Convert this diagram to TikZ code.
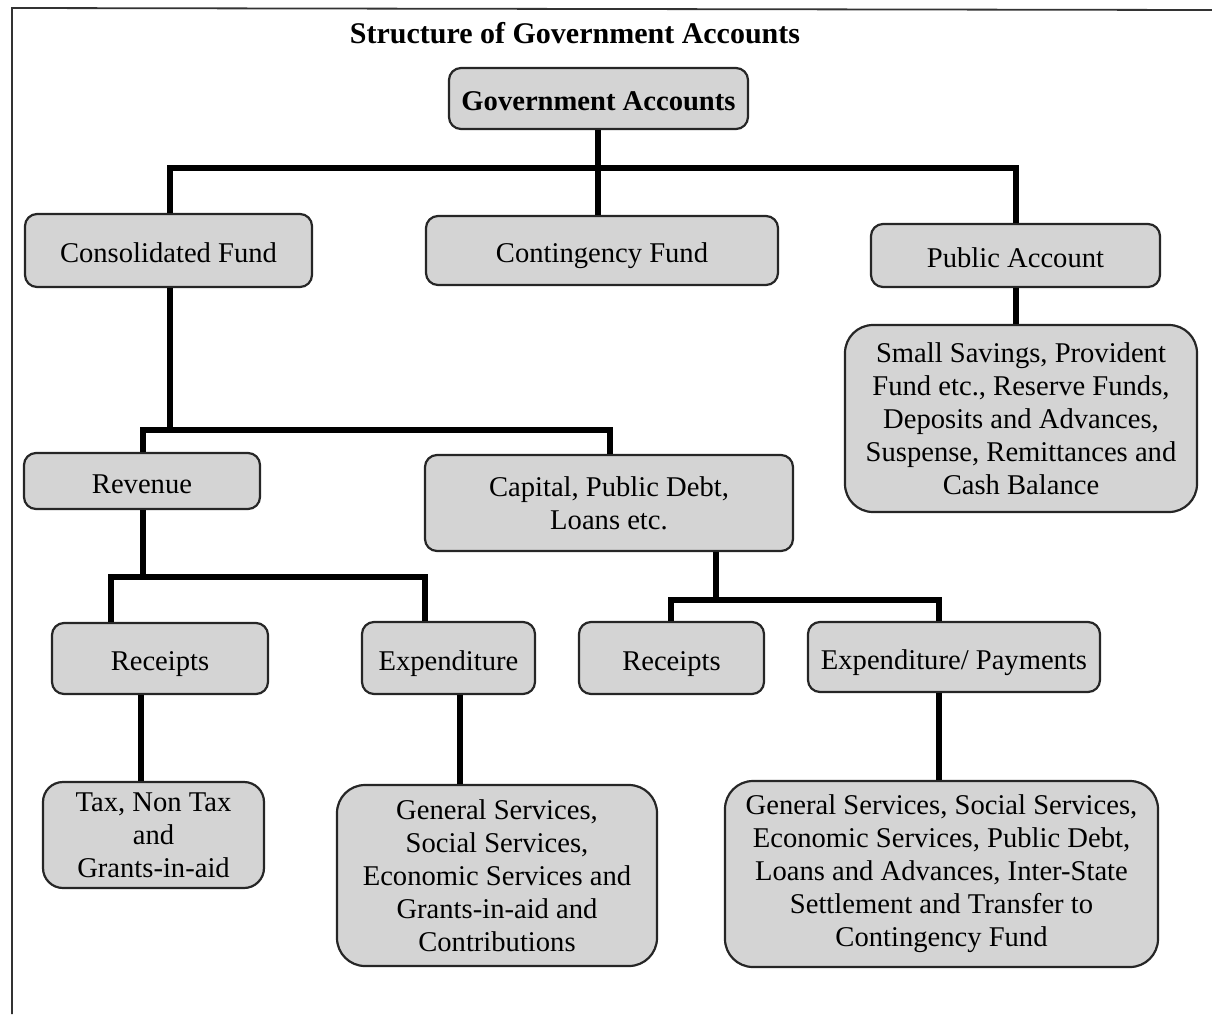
\documentclass[tikz,border=0pt]{standalone}
\usepackage{fontspec}
\setmainfont{Liberation Serif}
\tikzset{
  acct/.style={draw=black!85, line width=1.1pt, fill=black!17, rounded corners=6pt,
    inner sep=0pt, align=center, font=\fontsize{14.3}{16.5}\selectfont},
  onerow/.style={acct, text height=12pt, text depth=0pt},
  bigacct/.style={acct, rounded corners=14pt},
  tie/.style={line width=2.6pt, line join=miter},
}
\begin{document}
\begin{tikzpicture}[x=0.5pt,y=-0.5pt]
\def\yBusA {168} % level of the split under Government Accounts
\def\yBusB {430} % level of the split under Consolidated Fund
\def\yBusC {577} % level of the split under Revenue
\def\yBusD {600} % level of the split under Capital
\useasboundingbox (0,0) rectangle (1212,1014);
% frame:
 \draw[line width=0.9pt, black!80] (12,1014) -- (12,8) -- (1212,10);
% title:
 \node[font=\bfseries\fontsize{15}{18}\selectfont] (title) at (575,33) {Structure of Government Accounts};
% top level:
 \node[onerow, font=\bfseries\fontsize{14.3}{16.5}\selectfont, minimum width=149.5pt, minimum height=30.5pt] (ga) at (598.5,98.5) {Government Accounts};
 \node[onerow, minimum width=143.5pt, minimum height=36.5pt] (cf) at (168.5,250.5) {Consolidated Fund};
 \node[onerow, minimum width=176pt, minimum height=34.5pt] (cof) at (602,250.5) {Contingency Fund};
 \node[onerow, minimum width=144.5pt, minimum height=31.5pt] (pa) at (1015.5,255.5) {Public Account};
 \node[bigacct, minimum width=176pt, minimum height=93.5pt] (pad) at (1021,418.5) {Small Savings, Provident\\Fund etc., Reserve Funds,\\Deposits and Advances,\\Suspense, Remittances and\\Cash Balance};
% consolidated fund:
 \node[onerow, minimum width=118pt, minimum height=28pt] (rev) at (142,481) {Revenue};
 \node[acct, minimum width=184pt, minimum height=48pt] (cap) at (609,503) {Capital, Public Debt,\\Loans etc.};
 \node[onerow, minimum width=108pt, minimum height=35.5pt] (rc1) at (160,658.5) {Receipts};
 \node[onerow, minimum width=86.5pt, minimum height=36pt] (ex1) at (448.5,658) {Expenditure};
 \node[onerow, minimum width=92.5pt, minimum height=36pt] (rc2) at (671.5,658) {Receipts};
 \node[onerow, minimum width=146pt, minimum height=35pt] (ep) at (954,657) {Expenditure/ Payments};
% details:
 \node[acct, rounded corners=10pt, minimum width=110.5pt, minimum height=53pt] (tx) at (153.5,835) {Tax, Non Tax\\and\\Grants-in-aid};
 \node[bigacct, minimum width=160pt, minimum height=90.5pt] (gs1) at (497,875.5) {General Services,\\Social Services,\\Economic Services and\\Grants-in-aid and\\Contributions};
 \node[bigacct, minimum width=216.5pt, minimum height=93pt] (gs2) at (941.5,874) {General Services, Social Services,\\Economic Services, Public Debt,\\Loans and Advances, Inter-State\\Settlement and Transfer to\\Contingency Fund};
% connectors:
 \coordinate (cfTop) at (170,\yBusA);
 \coordinate (gaTop) at (598,\yBusA);
 \coordinate (paTop) at (1016,\yBusA);
 \draw[tie] (cf.north -| cfTop) -- (cfTop) -- (paTop) -- (pa.north -| paTop);
 \draw[tie] (ga.south -| gaTop) -- (cof.north -| gaTop);
 \draw[tie] (pa.south -| paTop) -- (pad.north -| paTop);
 \coordinate (revTop) at (143,\yBusB);
 \coordinate (capTop) at (610,\yBusB);
 \draw[tie] (cf.south -| cfTop) -- (cfTop |- revTop);
 \draw[tie] (rev.north -| revTop) -- (revTop) -- (capTop) -- (cap.north -| capTop);
 \coordinate (rc1Top) at (111,\yBusC);
 \coordinate (ex1Top) at (425,\yBusC);
 \draw[tie] (rev.south -| revTop) -- (revTop |- rc1Top);
 \draw[tie] (rc1.north -| rc1Top) -- (rc1Top) -- (ex1Top) -- (ex1.north -| ex1Top);
 \coordinate (capLow) at (716,\yBusD);
 \coordinate (rc2Top) at (671,\yBusD);
 \coordinate (epTop) at (939,\yBusD);
 \draw[tie] (cap.south -| capLow) -- (capLow);
 \draw[tie] (rc2.north -| rc2Top) -- (rc2Top) -- (epTop) -- (ep.north -| epTop);
 \draw[tie] (ep.south -| epTop) -- (gs2.north -| epTop);
 \coordinate (txDrop) at (141,700);
 \coordinate (gs1Drop) at (460,700);
 \draw[tie] (rc1.south -| txDrop) -- (tx.north -| txDrop);
 \draw[tie] (ex1.south -| gs1Drop) -- (gs1.north -| gs1Drop);
\end{tikzpicture}
\end{document}
